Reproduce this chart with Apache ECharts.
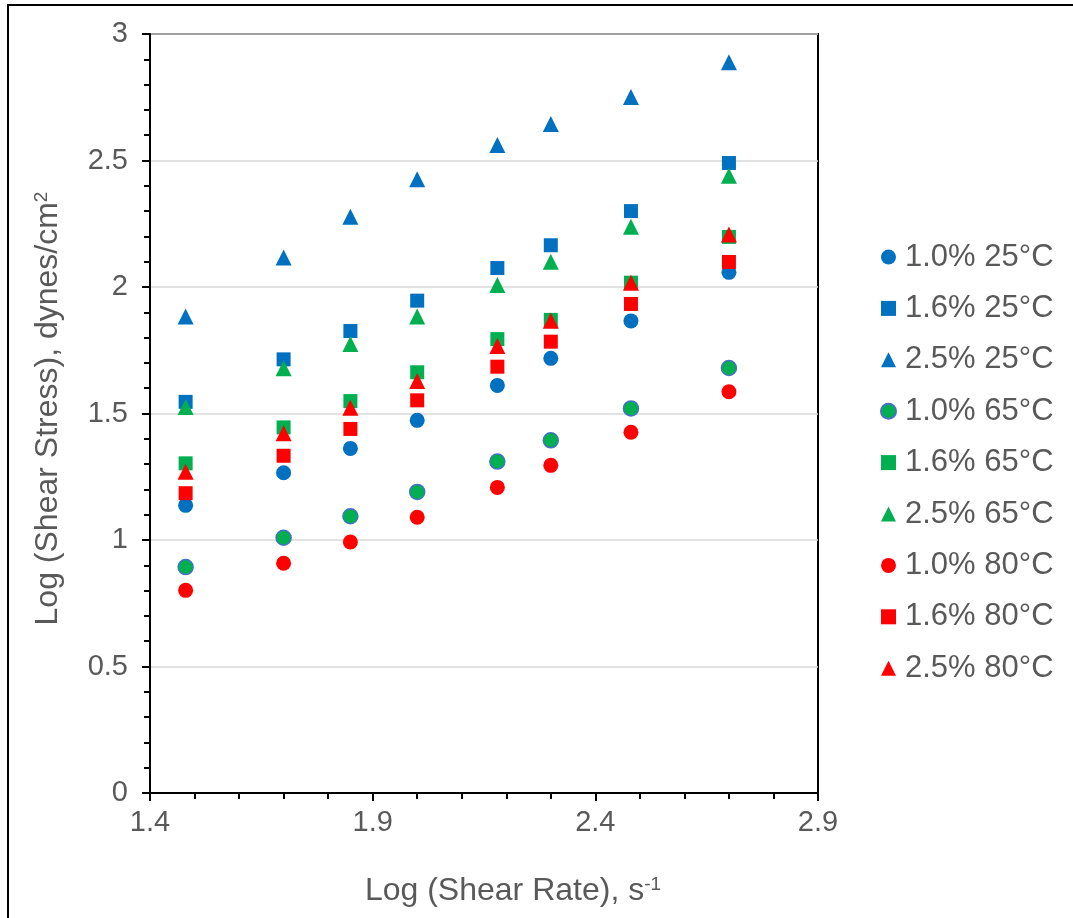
<!DOCTYPE html>
<html>
<head>
<meta charset="utf-8">
<title>Log Shear Stress vs Log Shear Rate</title>
<script src="https://cdn.jsdelivr.net/npm/echarts@6/dist/echarts.min.js"></script>
<style>
  html, body { margin: 0; padding: 0; background: #fff; }
  #wrap { position: relative; width: 1073px; height: 918px; overflow: hidden; }
  #frame { position: absolute; left: 7px; top: 4px; width: 1200px; height: 1100px;
           border-left: 2px solid #000; border-top: 2px solid #000; box-sizing: border-box; }
  #chart { position: absolute; left: 0; top: 0; width: 1073px; height: 918px; }
</style>
</head>
<body>
<div id="wrap">
  <div id="frame"></div>
  <div id="chart"></div>
</div>
<script>
// Log of shear rate (s^-1) at each measurement
const logShearRate = [1.48, 1.70, 1.85, 2.00, 2.18, 2.30, 2.48, 2.70];

// Log of shear stress (dynes/cm^2) per concentration and temperature
const c10t25 = [1.137, 1.266, 1.362, 1.473, 1.611, 1.718, 1.866, 2.058];
const c16t25 = [1.546, 1.714, 1.826, 1.946, 2.075, 2.165, 2.300, 2.490];
const c25t25 = [1.883, 2.117, 2.278, 2.426, 2.561, 2.644, 2.751, 2.888];
const c10t65 = [0.893, 1.009, 1.094, 1.190, 1.310, 1.394, 1.520, 1.680];
const c16t65 = [1.303, 1.445, 1.549, 1.663, 1.794, 1.870, 2.017, 2.198];
const c25t65 = [1.526, 1.679, 1.775, 1.883, 2.008, 2.100, 2.238, 2.440];
const c10t80 = [0.801, 0.908, 0.992, 1.090, 1.208, 1.295, 1.426, 1.586];
const c16t80 = [1.185, 1.333, 1.439, 1.552, 1.685, 1.784, 1.933, 2.099];
const c25t80 = [1.270, 1.422, 1.523, 1.628, 1.767, 1.867, 2.017, 2.208];

const seriesNames = [
  '1.0% 25°C', '1.6% 25°C', '2.5% 25°C',
  '1.0% 65°C', '1.6% 65°C', '2.5% 65°C',
  '1.0% 80°C', '1.6% 80°C', '2.5% 80°C'
];
const seriesValues = [c10t25, c16t25, c25t25, c10t65, c16t65, c25t65, c10t80, c16t80, c25t80];

const BLUE = '#0070C0', GREEN = '#00B050', RED = '#FF0000';
const TEXT = '#595959';
const FONT = '"Liberation Sans", Arial, sans-serif';

const styles = [
  { symbol: 'circle',   size: 15, color: BLUE },
  { symbol: 'rect',     size: 14, color: BLUE },
  { symbol: 'triangle', size: 16, color: BLUE },
  { symbol: 'circle',   size: 15, color: GREEN, border: '#4472C4' },
  { symbol: 'rect',     size: 14, color: GREEN },
  { symbol: 'triangle', size: 16, color: GREEN },
  { symbol: 'circle',   size: 15, color: RED },
  { symbol: 'rect',     size: 14, color: RED },
  { symbol: 'triangle', size: 16, color: RED }
];

const series = seriesNames.map((name, i) => {
  const st = styles[i];
  return {
    name: name,
    type: 'scatter',
    symbol: st.symbol,
    symbolSize: st.size,
    data: logShearRate.map((x, j) => [x, seriesValues[i][j]]),
    itemStyle: {
      color: st.color,
      opacity: 1,
      borderColor: st.border || st.color,
      borderWidth: st.border ? 1.5 : 0
    },
    emphasis: { disabled: true }
  };
});

const chart = echarts.init(document.getElementById('chart'), null, { renderer: 'canvas' });

chart.setOption({
  backgroundColor: 'transparent',
  animation: false,
  textStyle: { fontFamily: FONT },
  grid: {
    left: 150, top: 34, right: 255, bottom: 125,
    show: true, borderColor: '#000', borderWidth: 2
  },
  legend: {
    orient: 'vertical',
    left: 875,
    top: 235,
    itemWidth: 15,
    itemHeight: 15,
    itemGap: 17.4,
    data: seriesNames,
    textStyle: {
      fontFamily: FONT, fontSize: 31, color: TEXT, lineHeight: 34,
      padding: [0, 0, 0, 4]
    }
  },
  xAxis: {
    type: 'value',
    min: 1.4, max: 2.9, interval: 0.5,
    name: 'Log (Shear Rate), s{sup|-1}',
    nameLocation: 'middle',
    nameGap: 82,
    nameTextStyle: {
      fontFamily: FONT, fontSize: 32, color: TEXT,
      padding: [0, 0, 0, 58],
      rich: { sup: { fontFamily: FONT, fontSize: 19, color: TEXT, verticalAlign: 'top' } }
    },
    axisLine: { show: true, onZero: false, lineStyle: { color: '#000', width: 2 } },
    axisTick: { show: true, length: 8, lineStyle: { color: '#000', width: 2 } },
    minorTick: { show: true, splitNumber: 5, length: 6, lineStyle: { color: '#000', width: 2 } },
    axisLabel: {
      fontFamily: FONT, fontSize: 29, color: TEXT, margin: 15,
      formatter: v => v.toFixed(1),
      showMaxLabel: true, showMinLabel: true
    },
    splitLine: { show: false }
  },
  yAxis: {
    type: 'value',
    min: 0, max: 3, interval: 0.5,
    name: 'Log (Shear Stress), dynes/cm{sup|2}',
    nameLocation: 'middle',
    nameGap: 86,
    nameTextStyle: {
      fontFamily: FONT, fontSize: 32, color: TEXT,
      padding: [0, 0, 0, 10],
      rich: { sup: { fontFamily: FONT, fontSize: 19, color: TEXT, verticalAlign: 'top' } }
    },
    axisLine: { show: true, onZero: false, lineStyle: { color: '#000', width: 2 } },
    axisTick: { show: true, length: 8, lineStyle: { color: '#000', width: 2 } },
    minorTick: { show: true, splitNumber: 5, length: 6, lineStyle: { color: '#000', width: 2 } },
    axisLabel: {
      fontFamily: FONT, fontSize: 29, color: TEXT, margin: 22,
      formatter: v => String(parseFloat(v.toFixed(1)))
    },
    splitLine: { show: true, lineStyle: { color: '#D9D9D9', width: 1.5 } }
  },
  series: series
});
</script>
</body>
</html>
